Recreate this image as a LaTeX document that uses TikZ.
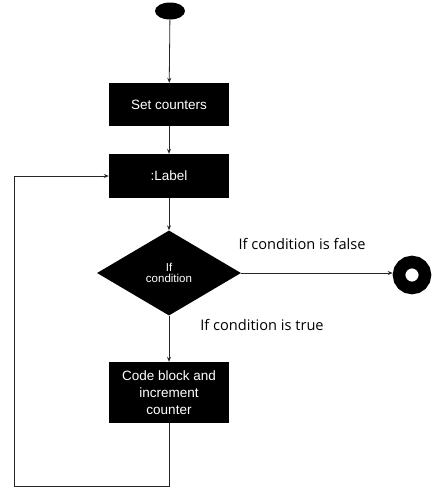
\documentclass[tikz,border=0pt]{standalone}
\usepackage{fontspec}
\setmainfont{Liberation Sans}
\newfontfamily\notefont{Open Sans}
\usetikzlibrary{shapes.geometric,arrows.meta}

\tikzset{
	stepbox/.style={fill=black, text=white, minimum width=120pt, minimum height=43pt, inner sep=0pt, align=center, font=\fontsize{13.5}{17}\selectfont},
	flow/.style={draw=black!85, line width=.8pt, -{Stealth[length=5pt,width=4pt]}},
	note/.style={font=\notefont\fontsize{14.6}{16}\selectfont}
}

\begin{document}
\begin{tikzpicture}[x=1pt, y=-1pt]
		\useasboundingbox (0,0) rectangle (437,491);
		% start and end
		\node [ellipse, fill=black, minimum width=30pt, minimum height=17pt, inner sep=0pt] (start) at (170,11) {};
		\node [circle, draw=black, line width=12.5pt, minimum size=26pt, inner sep=0pt] (stop) at (412,275) {};

		% boxes
		\node [stepbox] (set) at (169,104.5) {Set counters};
		\node [stepbox, minimum height=44pt] (label) at (169,176) {:Label};
		\node [diamond, fill=black, text=white, aspect=1.7, inner sep=0pt, minimum width=144pt, minimum height=85pt, align=center, font=\fontsize{11.5}{14}\selectfont] (cond) at (169,273) {\raisebox{-4pt}{\shortstack{If\\condition}}};
		\node [stepbox, minimum height=61pt] (code) at (169,392.5) {Code block and\\increment\\counter};

		\node [note] (false) at (302,244) {If condition is false};
		\node [note] (true) at (262,325) {If condition is true};

		\coordinate (loopr) at (169,486);
		\coordinate (loopl) at (14,486);
		\coordinate (loopt) at (14,176);

		\draw [flow] (start) -- (set);
		\draw [flow] (set) -- (label);
		\draw [flow] (label) -- (cond);
		\draw [flow] (cond.east) -- (cond.east -| stop.west);
		\draw [flow] (cond) -- (code);
		\draw [flow] (code.south) -- (loopr) -- (loopl) -- (loopt) -- (label.west);
	\end{tikzpicture}
\end{document}
